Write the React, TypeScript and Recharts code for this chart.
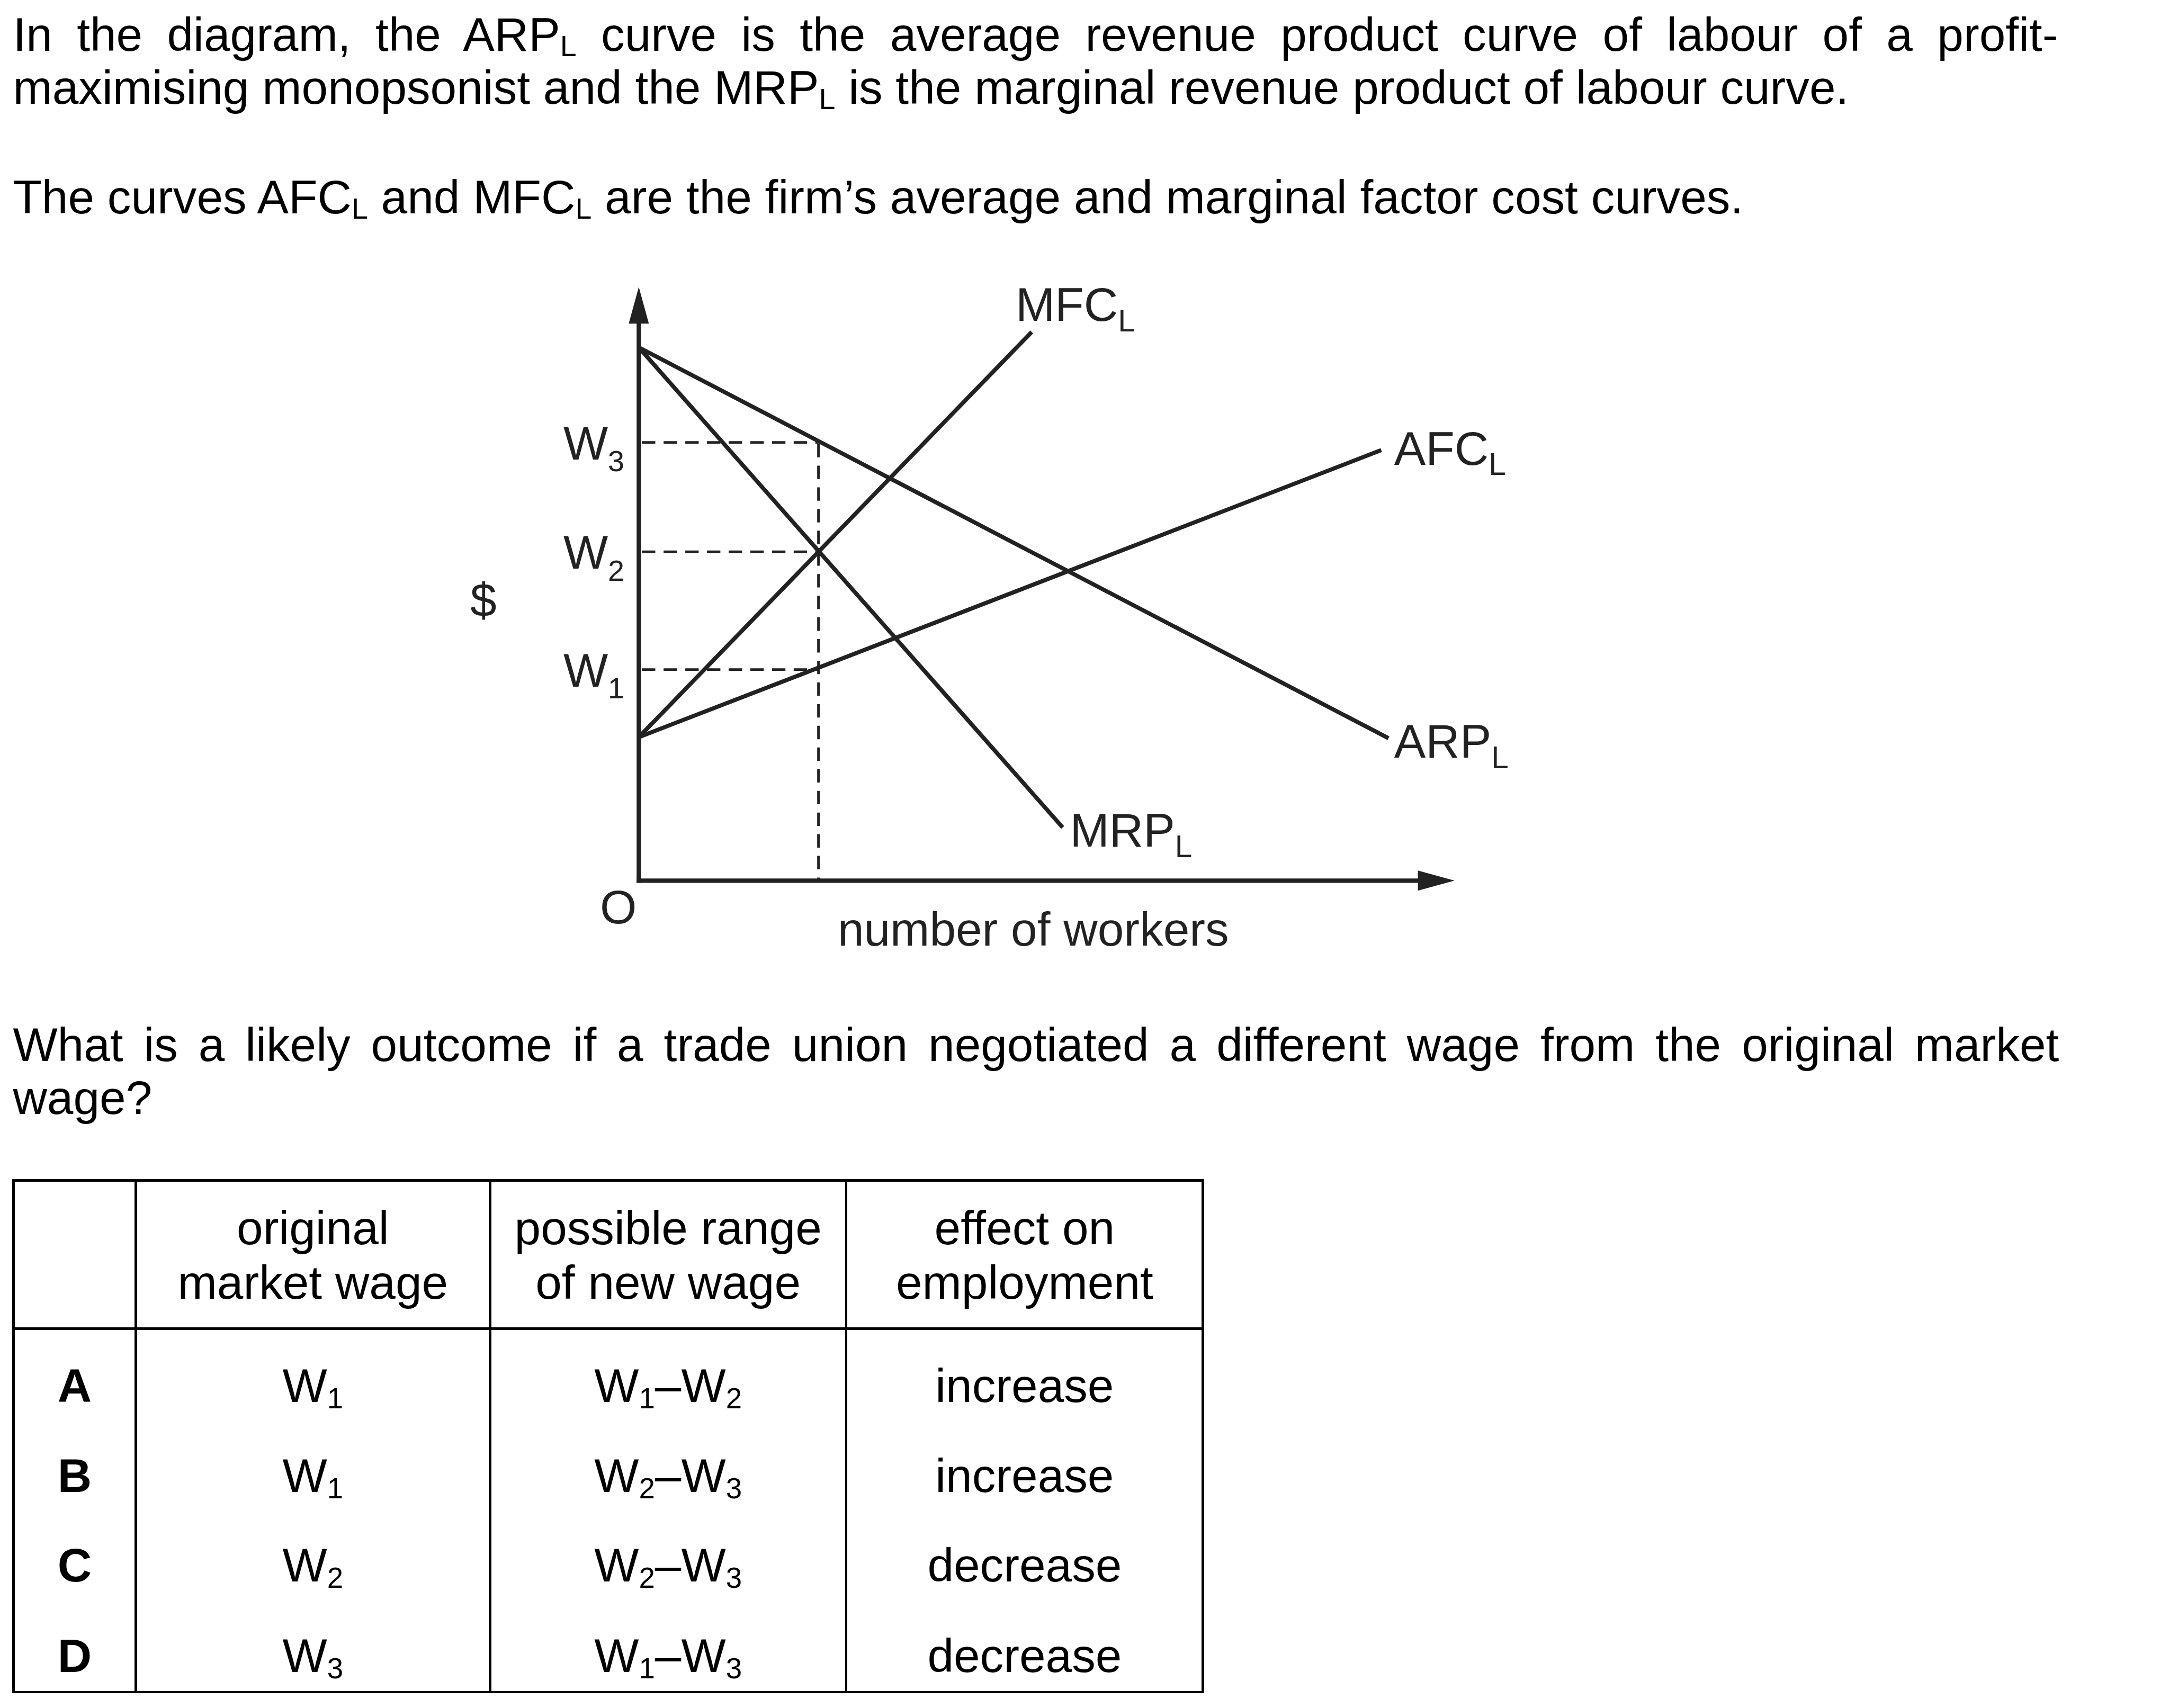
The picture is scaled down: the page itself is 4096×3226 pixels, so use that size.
import React from "react";
import { LineChart, Line, XAxis, YAxis, ReferenceLine, ReferenceDot } from "recharts";

// everything is laid out in reference pixels and shrunk by K
const K = 0.975;
const s = (v: number) => v * K;
const FONT = '"Liberation Sans", Arial, Helvetica, sans-serif';
const FS = 91.5;
const INK = "#222";

// diagram values: x = number of workers, y = $
const arpL = [{ x: 0, y: 103.3 }, { x: 145.2, y: 27.6 }];
const mrpL = [{ x: 0, y: 103.3 }, { x: 82.1, y: 10.3 }];
const mfcL = [{ x: 0, y: 27.8 }, { x: 76.1, y: 106.3 }];
const afcL = [{ x: 0, y: 27.8 }, { x: 143.8, y: 83.4 }];
const wages = [40.9, 63.7, 84.9]; // W1, W2, W3
const employment = 34.8;
const xMax = 158;
const yMax = 115;
const xArrowBase = 150.9;
const yArrowBase = 107.9;

// table
const headers = [["", ""], ["original", "market wage"], ["possible range", "of new wage"], ["effect on", "employment"]];
const options = ["A", "B", "C", "D"];
const originalWage = ["1", "1", "2", "3"];
const wageRange = [["1", "2"], ["2", "3"], ["2", "3"], ["1", "3"]];
const effect = ["increase", "increase", "decrease", "decrease"];

const colEdges = [26, 263, 949, 1639, 2330];
const rowLines = [2287, 2574, 3278];
const headBase = [2411, 2516];
const rowBase = [2716, 2891, 3064, 3239];

function TextLine(props: {
  left: number;
  baseline: number;
  width?: number;
  justify?: boolean;
  center?: boolean;
  bold?: boolean;
  children?: React.ReactNode;
}) {
  const f = s(FS);
  return (
    <div
      style={{
        position: "absolute",
        left: s(props.left),
        top: s(props.baseline) - 0.8465 * f,
        width: props.width ? s(props.width) : undefined,
        fontFamily: FONT,
        fontSize: f,
        lineHeight: `${f}px`,
        fontWeight: props.bold ? 700 : 400,
        color: "#000",
        textAlign: props.justify ? "justify" : props.center ? "center" : "left",
        textAlignLast: props.justify ? "justify" : props.center ? "center" : "left",
        whiteSpace: props.justify ? "normal" : "nowrap",
      }}
    >
      {props.children}
    </div>
  );
}

const Sub = ({ t }: { t: string }) => (
  <span style={{ fontSize: s(57), verticalAlign: -s(10), lineHeight: 0 }}>{t}</span>
);
const TSub = ({ t }: { t: string }) => (
  <span style={{ fontSize: s(56), verticalAlign: -s(12), lineHeight: 0 }}>{t}</span>
);

function WTick(props: any) {
  const { x, y, payload } = props;
  const n = wages.indexOf(payload.value) + 1;
  return (
    <text x={x - s(28)} y={y + s(33)} textAnchor="end" fontFamily={FONT} fontSize={s(FS)} fill={INK}>
      W<tspan fontSize={s(57)} dy={s(23)}>{n}</tspan>
    </text>
  );
}

function labelShape(main: string, sub: string | null, dx: number, dy: number, anchor = "start") {
  return (p: any) => (
    <text x={p.cx + s(dx)} y={p.cy + s(dy)} textAnchor={anchor} fontFamily={FONT} fontSize={s(FS)} fill={INK}>
      {main}
      {sub && (
        <tspan fontSize={s(60)} dy={s(20)}>
          {sub}
        </tspan>
      )}
    </text>
  );
}

const upArrow = (p: any) => (
  <polygon
    points={`${p.cx},${p.cy} ${p.cx - s(19.5)},${p.cy + s(71)} ${p.cx + s(19.5)},${p.cy + s(71)}`}
    fill={INK}
  />
);
const rightArrow = (p: any) => (
  <polygon
    points={`${p.cx},${p.cy} ${p.cx - s(71)},${p.cy - s(19.5)} ${p.cx - s(71)},${p.cy + s(19.5)}`}
    fill={INK}
  />
);

function Diagram() {
  const dash = `${s(26)} ${s(16)}`;
  const last = (d: { x: number; y: number }[]) => d[d.length - 1];
  const curve = (d: { x: number; y: number }[], k: string) => (
    <Line
      key={k}
      data={d}
      dataKey="y"
      type="linear"
      stroke={INK}
      strokeWidth={s(8)}
      dot={false}
      activeDot={false}
      isAnimationActive={false}
    />
  );
  return (
    <div style={{ position: "absolute", left: s(850), top: s(520) }}>
      <LineChart
        width={s(2150)}
        height={s(1380)}
        margin={{ left: s(87), right: s(183), top: s(36), bottom: s(194) }}
      >
        <XAxis type="number" dataKey="x" domain={[0, xMax]} allowDataOverflow hide />
        <YAxis
          type="number"
          domain={[0, yMax]}
          allowDataOverflow
          width={s(300)}
          ticks={wages}
          interval={0}
          axisLine={false}
          tickLine={false}
          tickSize={0}
          tickMargin={0}
          tick={<WTick />}
        />
        {wages.map((w) => (
          <ReferenceLine
            key={w}
            segment={[{ x: 0.6, y: w }, { x: employment, y: w }]}
            stroke={INK}
            strokeWidth={s(5)}
            strokeDasharray={dash}
            ifOverflow="visible"
          />
        ))}
        <ReferenceLine
          segment={[{ x: employment, y: wages[2] - 0.3 }, { x: employment, y: 0 }]}
          stroke={INK}
          strokeWidth={s(5)}
          strokeDasharray={dash}
          ifOverflow="visible"
        />
        <ReferenceLine
          segment={[{ x: 0, y: 0 }, { x: 0, y: yArrowBase }]}
          stroke={INK}
          strokeWidth={s(8.5)}
          strokeLinecap="square"
          ifOverflow="visible"
        />
        <ReferenceLine
          segment={[{ x: 0, y: 0 }, { x: xArrowBase, y: 0 }]}
          stroke={INK}
          strokeWidth={s(8.5)}
          strokeLinecap="square"
          ifOverflow="visible"
        />
        {curve(arpL, "arp")}
        {curve(mrpL, "mrp")}
        {curve(mfcL, "mfc")}
        {curve(afcL, "afc")}
        <ReferenceDot x={0} y={yMax} r={1} ifOverflow="visible" shape={upArrow} />
        <ReferenceDot x={xMax} y={0} r={1} ifOverflow="visible" shape={rightArrow} />
        <ReferenceDot x={last(mfcL).x} y={last(mfcL).y} r={1} ifOverflow="visible" shape={labelShape("MFC", "L", -31, -21)} />
        <ReferenceDot x={last(afcL).x} y={last(afcL).y} r={1} ifOverflow="visible" shape={labelShape("AFC", "L", 25, 28)} />
        <ReferenceDot x={last(arpL).x} y={last(arpL).y} r={1} ifOverflow="visible" shape={labelShape("ARP", "L", 11, 38)} />
        <ReferenceDot x={last(mrpL).x} y={last(mrpL).y} r={1} ifOverflow="visible" shape={labelShape("MRP", "L", 14, 37)} />
        <ReferenceDot x={0} y={0} r={1} ifOverflow="visible" shape={labelShape("O", null, -4, 83, "end")} />
        <ReferenceDot x={0} y={0} r={1} ifOverflow="visible" shape={labelShape("$", null, -301, -512, "middle")} />
        <ReferenceDot x={0} y={0} r={1} ifOverflow="visible" shape={labelShape("number of workers", null, 764, 126, "middle")} />
      </LineChart>
    </div>
  );
}

function Table() {
  const lw = 5;
  const x0 = colEdges[0];
  const x1 = colEdges[colEdges.length - 1];
  const y0 = rowLines[0];
  const y1 = rowLines[rowLines.length - 1];
  const cells: React.ReactNode[] = [];
  rowLines.forEach((y, i) =>
    cells.push(
      <div
        key={`h${i}`}
        style={{ position: "absolute", left: s(x0 - lw / 2), top: s(y - lw / 2), width: s(x1 - x0 + lw), height: s(lw), background: "#000" }}
      />
    )
  );
  colEdges.forEach((x, i) =>
    cells.push(
      <div
        key={`v${i}`}
        style={{ position: "absolute", left: s(x - lw / 2), top: s(y0 - lw / 2), width: s(lw), height: s(y1 - y0 + lw), background: "#000" }}
      />
    )
  );
  const col = (i: number) => ({ left: colEdges[i], width: colEdges[i + 1] - colEdges[i] });
  headers.forEach((h, i) =>
    h.forEach((t, j) =>
      cells.push(
        <TextLine key={`t${i}${j}`} {...col(i)} baseline={headBase[j]} center>
          {t}
        </TextLine>
      )
    )
  );
  options.forEach((o, r) => {
    cells.push(
      <TextLine key={`o${r}`} {...col(0)} baseline={rowBase[r]} center bold>
        {o}
      </TextLine>
    );
    cells.push(
      <TextLine key={`w${r}`} {...col(1)} baseline={rowBase[r]} center>
        W<TSub t={originalWage[r]} />
      </TextLine>
    );
    cells.push(
      <TextLine key={`r${r}`} {...col(2)} baseline={rowBase[r]} center>
        W<TSub t={wageRange[r][0]} />–W<TSub t={wageRange[r][1]} />
      </TextLine>
    );
    cells.push(
      <TextLine key={`e${r}`} {...col(3)} baseline={rowBase[r]} center>
        {effect[r]}
      </TextLine>
    );
  });
  return <>{cells}</>;
}

export default function App() {
  return (
    <div
      style={{
        position: "absolute",
        left: 0,
        top: 0,
        width: 4096,
        height: 3226,
        background: "#fff",
        overflow: "hidden",
      }}
    >
      <TextLine left={25} baseline={99} width={3961} justify>
        In the diagram, the ARP<Sub t="L" /> curve is the average revenue product curve of labour of a profit-
      </TextLine>
      <TextLine left={25} baseline={202}>
        maximising monopsonist and the MRP<Sub t="L" /> is the marginal revenue product of labour curve.
      </TextLine>
      <TextLine left={25} baseline={414}>
        The curves AFC<Sub t="L" /> and MFC<Sub t="L" /> are the firm’s average and marginal factor cost curves.
      </TextLine>
      <Diagram />
      <TextLine left={25} baseline={2056} width={3963} justify>
        What is a likely outcome if a trade union negotiated a different wage from the original market
      </TextLine>
      <TextLine left={25} baseline={2158}>
        wage?
      </TextLine>
      <Table />
    </div>
  );
}
